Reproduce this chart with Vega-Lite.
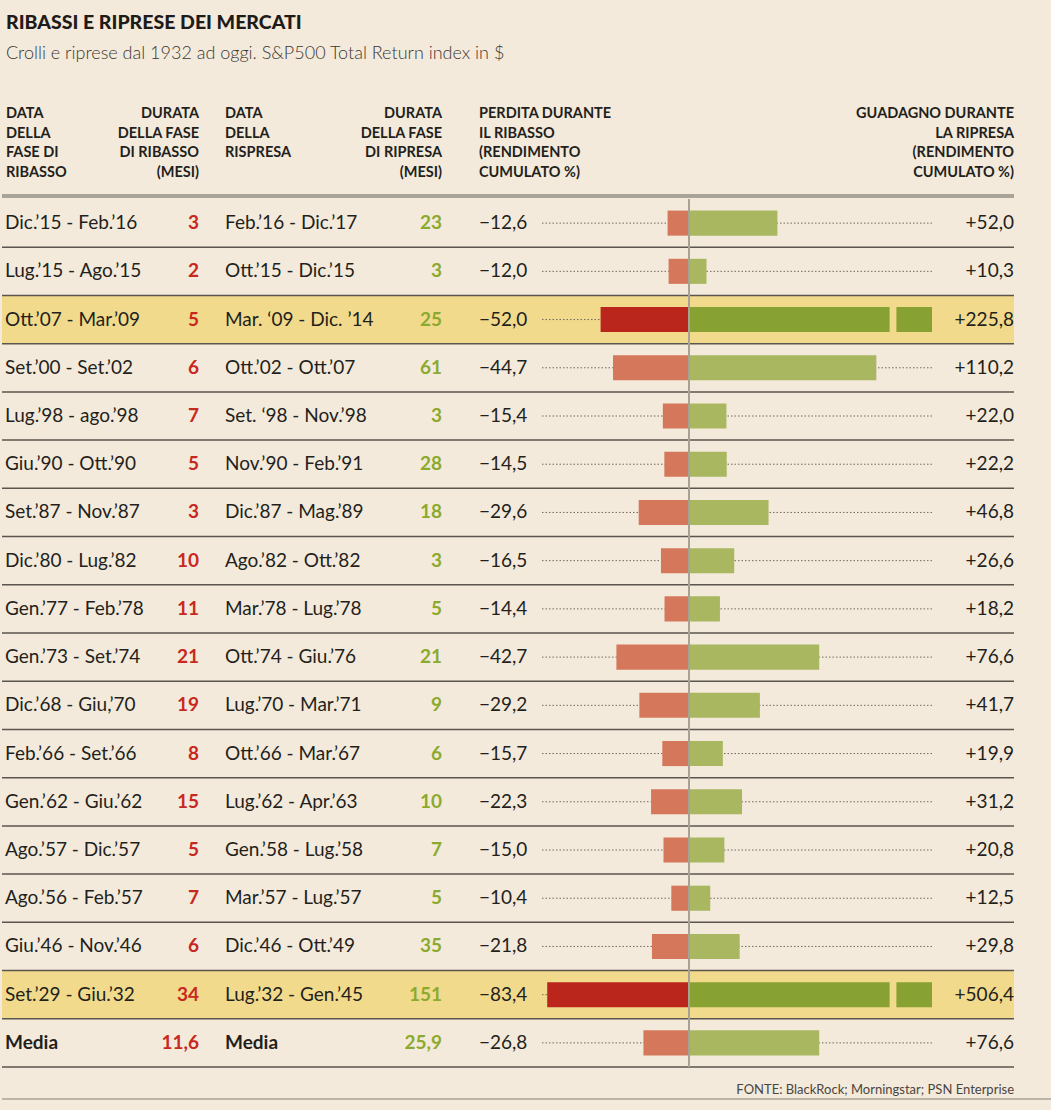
{
  "$schema": "https://vega.github.io/schema/vega-lite/v6.json",
  "background": "#F4EADB",
  "padding": {"top": 12, "left": 0, "right": 0, "bottom": 18},
  "config": {
    "view": {"stroke": null},
    "font": "Lato",
    "text": {"font": "Lato", "fontSize": 19, "color": "#231F1C", "baseline": "middle"},
    "locale": {"number": {"decimal": ",", "thousands": ".", "grouping": [3], "currency": ["", " €"]}}
  },
  "title": {
    "text": "RIBASSI E RIPRESE DEI MERCATI",
    "subtitle": "Crolli e riprese dal 1932 ad oggi. S&P500 Total Return index in $",
    "anchor": "start",
    "frame": "group",
    "dx": 4,
    "font": "Lato",
    "fontSize": 19.5,
    "fontWeight": 900,
    "color": "#1E1B18",
    "subtitleFont": "Lato",
    "subtitleFontSize": 18,
    "subtitleFontWeight": 300,
    "subtitleColor": "#3B3733",
    "subtitlePadding": 12,
    "offset": 42
  },
  "datasets": {
    "righe": [
      {"ribasso": "Dic.’15 - Feb.’16", "durata_ribasso": 3, "ripresa": "Feb.’16 - Dic.’17", "durata_ripresa": 23, "perdita": -12.6, "guadagno": 52.0, "evidenza": false},
      {"ribasso": "Lug.’15 - Ago.’15", "durata_ribasso": 2, "ripresa": "Ott.’15 - Dic.’15", "durata_ripresa": 3, "perdita": -12.0, "guadagno": 10.3, "evidenza": false},
      {"ribasso": "Ott.’07 - Mar.’09", "durata_ribasso": 5, "ripresa": "Mar. ‘09 - Dic. ’14", "durata_ripresa": 25, "perdita": -52.0, "guadagno": 225.8, "evidenza": true},
      {"ribasso": "Set.’00 - Set.’02", "durata_ribasso": 6, "ripresa": "Ott.’02 - Ott.’07", "durata_ripresa": 61, "perdita": -44.7, "guadagno": 110.2, "evidenza": false},
      {"ribasso": "Lug.’98 - ago.’98", "durata_ribasso": 7, "ripresa": "Set. ‘98 - Nov.’98", "durata_ripresa": 3, "perdita": -15.4, "guadagno": 22.0, "evidenza": false},
      {"ribasso": "Giu.’90 - Ott.’90", "durata_ribasso": 5, "ripresa": "Nov.’90 - Feb.’91", "durata_ripresa": 28, "perdita": -14.5, "guadagno": 22.2, "evidenza": false},
      {"ribasso": "Set.’87 - Nov.’87", "durata_ribasso": 3, "ripresa": "Dic.’87 - Mag.’89", "durata_ripresa": 18, "perdita": -29.6, "guadagno": 46.8, "evidenza": false},
      {"ribasso": "Dic.’80 - Lug.’82", "durata_ribasso": 10, "ripresa": "Ago.’82 - Ott.’82", "durata_ripresa": 3, "perdita": -16.5, "guadagno": 26.6, "evidenza": false},
      {"ribasso": "Gen.’77 - Feb.’78", "durata_ribasso": 11, "ripresa": "Mar.’78 - Lug.’78", "durata_ripresa": 5, "perdita": -14.4, "guadagno": 18.2, "evidenza": false},
      {"ribasso": "Gen.’73 - Set.’74", "durata_ribasso": 21, "ripresa": "Ott.’74 - Giu.’76", "durata_ripresa": 21, "perdita": -42.7, "guadagno": 76.6, "evidenza": false},
      {"ribasso": "Dic.’68 - Giu,’70", "durata_ribasso": 19, "ripresa": "Lug.’70  - Mar.’71", "durata_ripresa": 9, "perdita": -29.2, "guadagno": 41.7, "evidenza": false},
      {"ribasso": "Feb.’66 - Set.’66", "durata_ribasso": 8, "ripresa": "Ott.’66 - Mar.’67", "durata_ripresa": 6, "perdita": -15.7, "guadagno": 19.9, "evidenza": false},
      {"ribasso": "Gen.’62 - Giu.’62", "durata_ribasso": 15, "ripresa": "Lug.’62 - Apr.’63", "durata_ripresa": 10, "perdita": -22.3, "guadagno": 31.2, "evidenza": false},
      {"ribasso": "Ago.’57 - Dic.’57", "durata_ribasso": 5, "ripresa": "Gen.’58 - Lug.’58", "durata_ripresa": 7, "perdita": -15.0, "guadagno": 20.8, "evidenza": false},
      {"ribasso": "Ago.’56 - Feb.’57", "durata_ribasso": 7, "ripresa": "Mar.’57 - Lug.’57", "durata_ripresa": 5, "perdita": -10.4, "guadagno": 12.5, "evidenza": false},
      {"ribasso": "Giu.’46 - Nov.’46", "durata_ribasso": 6, "ripresa": "Dic.’46 - Ott.’49", "durata_ripresa": 35, "perdita": -21.8, "guadagno": 29.8, "evidenza": false},
      {"ribasso": "Set.’29 - Giu.’32", "durata_ribasso": 34, "ripresa": "Lug.’32 - Gen.’45", "durata_ripresa": 151, "perdita": -83.4, "guadagno": 506.4, "evidenza": true},
      {"ribasso": "Media", "durata_ribasso": 11.6, "ripresa": "Media", "durata_ripresa": 25.9, "perdita": -26.8, "guadagno": 76.6, "evidenza": false}
    ],
    "intestazioni": [
      {"colonna": "data_ribasso", "testo": ["DATA", "DELLA", "FASE DI", "RIBASSO"]},
      {"colonna": "durata_ribasso", "testo": ["DURATA", "DELLA FASE", "DI RIBASSO", "(MESI)"]},
      {"colonna": "data_ripresa", "testo": ["DATA", "DELLA", "RISPRESA"]},
      {"colonna": "durata_ripresa", "testo": ["DURATA", "DELLA FASE", "DI RIPRESA", "(MESI)"]},
      {"colonna": "perdita", "testo": ["PERDITA DURANTE", "IL RIBASSO", "(RENDIMENTO", "CUMULATO %)"]},
      {"colonna": "guadagno", "testo": ["GUADAGNO DURANTE", "LA RIPRESA", "(RENDIMENTO", "CUMULATO %)"]}
    ]
  },
  "spacing": 0,
  "vconcat": [
    {
      "data": {"name": "intestazioni"},
      "spacing": 0,
      "bounds": "flush",
      "hconcat": [
        {
          "width": 197, "height": 89,
          "layer": [
            {"mark": {"type": "rule", "stroke": "#A9A398", "strokeWidth": 3}, "encoding": {"y": {"datum": 1, "type": "quantitative", "scale": {"domain": [0, 1], "reverse": true}, "axis": null}}},
            {"transform": [{"filter": "datum.colonna === 'data_ribasso'"}], "mark": {"type": "text", "align": "left", "baseline": "top", "dx": 4, "fontSize": 14.5, "fontWeight": "bold", "lineHeight": 19.5}, "encoding": {"x": {"datum": 0, "type": "quantitative", "scale": {"domain": [0, 1]}, "axis": null}, "y": {"datum": 0, "type": "quantitative", "scale": {"domain": [0, 1], "reverse": true}, "axis": null}, "text": {"field": "testo"}}},
            {"transform": [{"filter": "datum.colonna === 'durata_ribasso'"}], "mark": {"type": "text", "align": "right", "baseline": "top", "fontSize": 14.5, "fontWeight": "bold", "lineHeight": 19.5}, "encoding": {"x": {"datum": 1, "type": "quantitative", "scale": {"domain": [0, 1]}, "axis": null}, "y": {"datum": 0, "type": "quantitative", "scale": {"domain": [0, 1], "reverse": true}, "axis": null}, "text": {"field": "testo"}}}
          ]
        },
        {
          "width": 243, "height": 89,
          "layer": [
            {"mark": {"type": "rule", "stroke": "#A9A398", "strokeWidth": 3}, "encoding": {"y": {"datum": 1, "type": "quantitative", "scale": {"domain": [0, 1], "reverse": true}, "axis": null}}},
            {"transform": [{"filter": "datum.colonna === 'data_ripresa'"}], "mark": {"type": "text", "align": "left", "baseline": "top", "dx": 26, "fontSize": 14.5, "fontWeight": "bold", "lineHeight": 19.5}, "encoding": {"x": {"datum": 0, "type": "quantitative", "scale": {"domain": [0, 1]}, "axis": null}, "y": {"datum": 0, "type": "quantitative", "scale": {"domain": [0, 1], "reverse": true}, "axis": null}, "text": {"field": "testo"}}},
            {"transform": [{"filter": "datum.colonna === 'durata_ripresa'"}], "mark": {"type": "text", "align": "right", "baseline": "top", "fontSize": 14.5, "fontWeight": "bold", "lineHeight": 19.5}, "encoding": {"x": {"datum": 1, "type": "quantitative", "scale": {"domain": [0, 1]}, "axis": null}, "y": {"datum": 0, "type": "quantitative", "scale": {"domain": [0, 1], "reverse": true}, "axis": null}, "text": {"field": "testo"}}}
          ]
        },
        {
          "width": 490, "height": 89,
          "layer": [
            {"mark": {"type": "rule", "stroke": "#A9A398", "strokeWidth": 3}, "encoding": {"y": {"datum": 1, "type": "quantitative", "scale": {"domain": [0, 1], "reverse": true}, "axis": null}}},
            {"transform": [{"filter": "datum.colonna === 'perdita'"}], "mark": {"type": "text", "align": "left", "baseline": "top", "dx": 37, "fontSize": 14.5, "fontWeight": "bold", "lineHeight": 19.5}, "encoding": {"x": {"datum": 0, "type": "quantitative", "scale": {"domain": [0, 1]}, "axis": null}, "y": {"datum": 0, "type": "quantitative", "scale": {"domain": [0, 1], "reverse": true}, "axis": null}, "text": {"field": "testo"}}}
          ]
        },
        {
          "width": 82, "height": 89,
          "layer": [
            {"mark": {"type": "rule", "stroke": "#A9A398", "strokeWidth": 3}, "encoding": {"y": {"datum": 1, "type": "quantitative", "scale": {"domain": [0, 1], "reverse": true}, "axis": null}}},
            {"transform": [{"filter": "datum.colonna === 'guadagno'"}], "mark": {"type": "text", "align": "right", "baseline": "top", "fontSize": 14.5, "fontWeight": "bold", "lineHeight": 19.5}, "encoding": {"x": {"datum": 1, "type": "quantitative", "scale": {"domain": [0, 1]}, "axis": null}, "y": {"datum": 0, "type": "quantitative", "scale": {"domain": [0, 1], "reverse": true}, "axis": null}, "text": {"field": "testo"}}}
          ]
        }
      ]
    },
    {
      "data": {"name": "righe"},
      "spacing": 0,
      "bounds": "flush",
      "hconcat": [
        {
          "width": 197, "height": 868,
          "layer": [
            {"mark": {"type": "rect"}, "encoding": {"y": {"field": "ribasso", "type": "nominal", "sort": null, "scale": {"type": "band", "paddingInner": 0, "paddingOuter": 0}, "axis": null}, "fill": {"condition": {"test": "datum.evidenza", "value": "#F1DA8C"}, "value": "transparent"}}},
            {"mark": {"type": "rule", "stroke": "#5A554D", "strokeWidth": 1.5}, "encoding": {"y": {"field": "ribasso", "type": "nominal", "sort": null, "bandPosition": 1, "scale": {"type": "band", "paddingInner": 0, "paddingOuter": 0}, "axis": null}}},
            {"mark": {"type": "text", "align": "left", "dx": 3}, "encoding": {"x": {"datum": 0, "type": "quantitative", "scale": {"domain": [0, 1]}, "axis": null}, "y": {"field": "ribasso", "type": "nominal", "sort": null, "scale": {"type": "band", "paddingInner": 0, "paddingOuter": 0}, "axis": null}, "text": {"condition": {"test": "datum.ribasso !== 'Media'", "field": "ribasso", "type": "nominal"}, "value": ""}}},
            {"mark": {"type": "text", "align": "left", "dx": 3, "fontWeight": "bold"}, "encoding": {"x": {"datum": 0, "type": "quantitative", "scale": {"domain": [0, 1]}, "axis": null}, "y": {"field": "ribasso", "type": "nominal", "sort": null, "scale": {"type": "band", "paddingInner": 0, "paddingOuter": 0}, "axis": null}, "text": {"condition": {"test": "datum.ribasso === 'Media'", "field": "ribasso", "type": "nominal"}, "value": ""}}},
            {"mark": {"type": "text", "align": "right", "fontWeight": "bold", "color": "#C8281E"}, "encoding": {"x": {"datum": 1, "type": "quantitative", "scale": {"domain": [0, 1]}, "axis": null}, "y": {"field": "ribasso", "type": "nominal", "sort": null, "scale": {"type": "band", "paddingInner": 0, "paddingOuter": 0}, "axis": null}, "text": {"field": "durata_ribasso", "type": "quantitative", "format": "~f"}}}
          ]
        },
        {
          "width": 243, "height": 868,
          "layer": [
            {"mark": {"type": "rect"}, "encoding": {"y": {"field": "ribasso", "type": "nominal", "sort": null, "scale": {"type": "band", "paddingInner": 0, "paddingOuter": 0}, "axis": null}, "fill": {"condition": {"test": "datum.evidenza", "value": "#F1DA8C"}, "value": "transparent"}}},
            {"mark": {"type": "rule", "stroke": "#5A554D", "strokeWidth": 1.5}, "encoding": {"y": {"field": "ribasso", "type": "nominal", "sort": null, "bandPosition": 1, "scale": {"type": "band", "paddingInner": 0, "paddingOuter": 0}, "axis": null}}},
            {"mark": {"type": "text", "align": "left", "dx": 26}, "encoding": {"x": {"datum": 0, "type": "quantitative", "scale": {"domain": [0, 1]}, "axis": null}, "y": {"field": "ribasso", "type": "nominal", "sort": null, "scale": {"type": "band", "paddingInner": 0, "paddingOuter": 0}, "axis": null}, "text": {"condition": {"test": "datum.ripresa !== 'Media'", "field": "ripresa", "type": "nominal"}, "value": ""}}},
            {"mark": {"type": "text", "align": "left", "dx": 26, "fontWeight": "bold"}, "encoding": {"x": {"datum": 0, "type": "quantitative", "scale": {"domain": [0, 1]}, "axis": null}, "y": {"field": "ribasso", "type": "nominal", "sort": null, "scale": {"type": "band", "paddingInner": 0, "paddingOuter": 0}, "axis": null}, "text": {"condition": {"test": "datum.ripresa === 'Media'", "field": "ripresa", "type": "nominal"}, "value": ""}}},
            {"mark": {"type": "text", "align": "right", "fontWeight": "bold", "color": "#8BAA2E"}, "encoding": {"x": {"datum": 1, "type": "quantitative", "scale": {"domain": [0, 1]}, "axis": null}, "y": {"field": "ribasso", "type": "nominal", "sort": null, "scale": {"type": "band", "paddingInner": 0, "paddingOuter": 0}, "axis": null}, "text": {"field": "durata_ripresa", "type": "quantitative", "format": "~f"}}}
          ]
        },
        {
          "width": 100, "height": 868,
          "layer": [
            {"mark": {"type": "rect"}, "encoding": {"y": {"field": "ribasso", "type": "nominal", "sort": null, "scale": {"type": "band", "paddingInner": 0, "paddingOuter": 0}, "axis": null}, "fill": {"condition": {"test": "datum.evidenza", "value": "#F1DA8C"}, "value": "transparent"}}},
            {"mark": {"type": "rule", "stroke": "#5A554D", "strokeWidth": 1.5}, "encoding": {"y": {"field": "ribasso", "type": "nominal", "sort": null, "bandPosition": 1, "scale": {"type": "band", "paddingInner": 0, "paddingOuter": 0}, "axis": null}}},
            {"mark": {"type": "text", "align": "left", "dx": 37}, "encoding": {"x": {"datum": 0, "type": "quantitative", "scale": {"domain": [0, 1]}, "axis": null}, "y": {"field": "ribasso", "type": "nominal", "sort": null, "scale": {"type": "band", "paddingInner": 0, "paddingOuter": 0}, "axis": null}, "text": {"field": "perdita", "type": "quantitative", "format": ".1f"}}}
          ]
        },
        {
          "width": 390, "height": 868,
          "layer": [
            {"mark": {"type": "rect"}, "encoding": {"y": {"field": "ribasso", "type": "nominal", "sort": null, "scale": {"type": "band", "paddingInner": 0, "paddingOuter": 0}, "axis": null}, "fill": {"condition": {"test": "datum.evidenza", "value": "#F1DA8C"}, "value": "transparent"}}},
            {"mark": {"type": "rule", "stroke": "#5A554D", "strokeWidth": 1.5}, "encoding": {"y": {"field": "ribasso", "type": "nominal", "sort": null, "bandPosition": 1, "scale": {"type": "band", "paddingInner": 0, "paddingOuter": 0}, "axis": null}}},
            {"mark": {"type": "rule", "stroke": "#6E685F", "strokeWidth": 1, "strokeDash": [1.5, 2]}, "encoding": {"y": {"field": "ribasso", "type": "nominal", "sort": null, "bandPosition": 0.5, "scale": {"type": "band", "paddingInner": 0, "paddingOuter": 0}, "axis": null}}},
            {"mark": {"type": "bar", "height": {"band": 0.52}}, "encoding": {"y": {"field": "ribasso", "type": "nominal", "sort": null, "scale": {"type": "band", "paddingInner": 0, "paddingOuter": 0}, "axis": null}, "x": {"field": "perdita", "type": "quantitative", "scale": {"domain": [-86.47, 142.94], "clamp": true, "nice": false, "zero": false}, "axis": null}, "x2": {"datum": 0}, "fill": {"condition": {"test": "datum.evidenza", "value": "#BA261C"}, "value": "#D5775A"}}},
            {"mark": {"type": "bar", "height": {"band": 0.52}}, "encoding": {"y": {"field": "ribasso", "type": "nominal", "sort": null, "scale": {"type": "band", "paddingInner": 0, "paddingOuter": 0}, "axis": null}, "x": {"field": "guadagno", "type": "quantitative", "scale": {"domain": [-86.47, 142.94], "clamp": true, "nice": false, "zero": false}, "axis": null}, "x2": {"datum": 0}, "fill": {"condition": {"test": "datum.evidenza", "value": "#87A132"}, "value": "#A9B760"}}},
            {"mark": {"type": "bar", "height": {"band": 0.6}}, "encoding": {"y": {"field": "ribasso", "type": "nominal", "sort": null, "scale": {"type": "band", "paddingInner": 0, "paddingOuter": 0}, "axis": null}, "x": {"datum": 118, "type": "quantitative", "scale": {"domain": [-86.47, 142.94], "clamp": true, "nice": false, "zero": false}, "axis": null}, "x2": {"datum": 122}, "fill": {"condition": {"test": "datum.guadagno > 142.94", "value": "#F1DA8C"}, "value": "transparent"}}},
            {"data": {"values": [{}]}, "mark": {"type": "rule", "stroke": "#A8A196", "strokeWidth": 2}, "encoding": {"x": {"datum": 0, "type": "quantitative", "scale": {"domain": [-86.47, 142.94], "clamp": true, "nice": false, "zero": false}, "axis": null}}}
          ]
        },
        {
          "width": 82, "height": 868,
          "layer": [
            {"mark": {"type": "rect"}, "encoding": {"y": {"field": "ribasso", "type": "nominal", "sort": null, "scale": {"type": "band", "paddingInner": 0, "paddingOuter": 0}, "axis": null}, "fill": {"condition": {"test": "datum.evidenza", "value": "#F1DA8C"}, "value": "transparent"}}},
            {"mark": {"type": "rule", "stroke": "#5A554D", "strokeWidth": 1.5}, "encoding": {"y": {"field": "ribasso", "type": "nominal", "sort": null, "bandPosition": 1, "scale": {"type": "band", "paddingInner": 0, "paddingOuter": 0}, "axis": null}}},
            {"mark": {"type": "text", "align": "right"}, "encoding": {"x": {"datum": 1, "type": "quantitative", "scale": {"domain": [0, 1]}, "axis": null}, "y": {"field": "ribasso", "type": "nominal", "sort": null, "scale": {"type": "band", "paddingInner": 0, "paddingOuter": 0}, "axis": null}, "text": {"field": "guadagno", "type": "quantitative", "format": "+.1f"}}}
          ]
        }
      ]
    },
    {
      "width": 1051, "height": 31,
      "data": {"values": [{"fonte": "FONTE: BlackRock; Morningstar; PSN Enterprise"}]},
      "layer": [
        {"mark": {"type": "text", "align": "right", "dx": -39, "fontSize": 13, "color": "#4A453F"}, "encoding": {"x": {"datum": 1, "type": "quantitative", "scale": {"domain": [0, 1]}, "axis": null}, "y": {"datum": 0.71, "type": "quantitative", "scale": {"domain": [0, 1], "reverse": true}, "axis": null}, "text": {"field": "fonte"}}},
        {"mark": {"type": "rule", "stroke": "#A9A398", "strokeWidth": 1.5}, "encoding": {"y": {"datum": 1, "type": "quantitative", "scale": {"domain": [0, 1], "reverse": true}, "axis": null}}}
      ]
    }
  ]
}
